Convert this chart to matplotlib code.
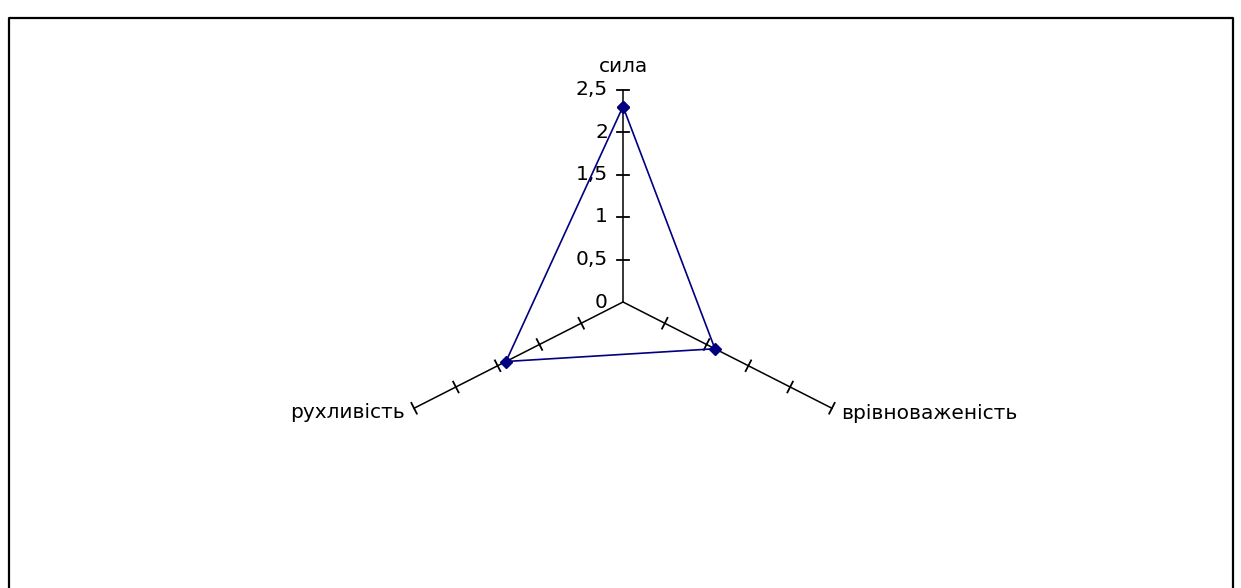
import numpy as np
import matplotlib
matplotlib.use("Agg")
import matplotlib.pyplot as plt
from matplotlib.lines import Line2D

# three temperament properties and their scores
categories = ["сила", "врівноваженість", "рухливість"]
values = [2.3, 1.1, 1.4]
ticks = [0, 0.5, 1, 1.5, 2, 2.5]
tick_labels = ["0", "0,5", "1", "1,5", "2", "2,5"]
r_max = 2.5

plt.rcParams["font.family"] = ["DejaVu Sans"]

W, H = 1241, 588
fig = plt.figure(figsize=(W / 100, H / 100), dpi=100)
ax = fig.add_axes([0, 0, 1, 1])
ax.set_axis_off()

# pixel scale per value unit (chart is a bit wider than tall)
sx, sy = 96.5, 85.0
cx, cy = 623, 302
ax.set_xlim(-cx / sx, (W - cx) / sx)
ax.set_ylim(-(H - cy) / sy, cy / sy)

angles = np.deg2rad([0, 120, 240])


def to_xy(r, a):
    return r * np.sin(a), r * np.cos(a)


# spokes with crossing tick marks
tick_half = 6  # px
for a in angles:
    x1, y1 = to_xy(r_max, a)
    ax.plot([0, x1], [0, y1], color="black", lw=1.1, zorder=1)
    dx, dy = x1 * sx, y1 * sy
    n = np.hypot(dx, dy)
    px, py = -dy / n * tick_half / sx, dx / n * tick_half / sy
    for t in ticks[1:]:
        tx, ty = to_xy(t, a)
        ax.plot([tx - px, tx + px], [ty - py, ty + py], color="black", lw=1.3, zorder=1)

fs = 14.5

# value labels along the top spoke
for t, lab in zip(ticks, tick_labels):
    ax.text(-15 / sx, t, lab, ha="right", va="center", fontsize=fs, color="black")

# category labels
ax.text(0, r_max + 14 / sy, categories[0], ha="center", va="bottom", fontsize=fs)
x, y = to_xy(r_max, angles[1])
ax.text(x + 9 / sx, y - 5 / sy, categories[1], ha="left", va="center", fontsize=fs)
x, y = to_xy(r_max, angles[2])
ax.text(x - 9 / sx, y - 4 / sy, categories[2], ha="right", va="center", fontsize=fs)

# data polygon
xs, ys = to_xy(np.array(values + values[:1]), np.append(angles, angles[0]))
ax.plot(xs, ys, color="#000080", lw=1.2, marker="D", markersize=6,
        markerfacecolor="#000080", markeredgecolor="#000080", zorder=3)

# outer frame (open at the bottom)
fx0, fx1, fy = 8.5 / W, 1233 / W, 1 - 17.5 / H
fig.add_artist(Line2D([fx0, fx0, fx1, fx1], [0, fy, fy, 0],
                      transform=fig.transFigure, color="black", lw=1.6))

fig.savefig("out.png", dpi=100)
